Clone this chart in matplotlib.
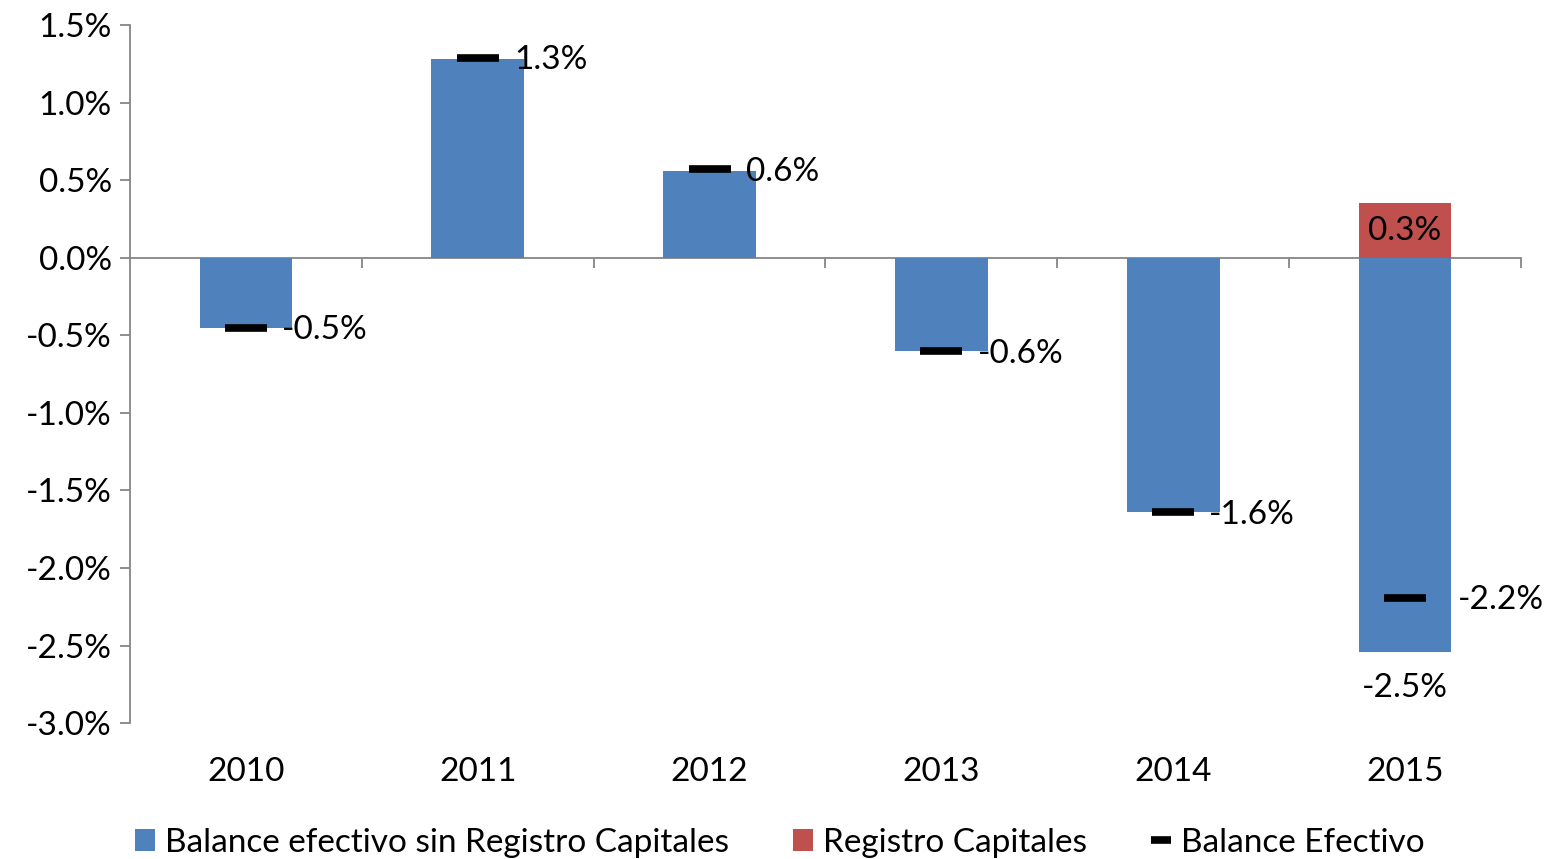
import matplotlib
matplotlib.use("Agg")
import matplotlib.pyplot as plt
from matplotlib.lines import Line2D
from matplotlib.ticker import FuncFormatter
import numpy as np

plt.rcParams['font.family'] = ['Lato', 'DejaVu Sans']

# data (percent of GDP)
years = ['2010', '2011', '2012', '2013', '2014', '2015']
sin_registro = [-0.45, 1.28, 0.56, -0.60, -1.64, -2.54]
registro = [0, 0, 0, 0, 0, 0.35]
balance = [-0.45, 1.29, 0.57, -0.60, -1.64, -2.19]
balance_lbl = ['-0.5%', '1.3%', '0.6%', '-0.6%', '-1.6%', '-2.2%']

blue = '#4F81BD'
red = '#C0504D'
grey = '#868686'
fs = 24

x = np.arange(len(years))

fig, ax = plt.subplots(figsize=(15.47, 8.59), dpi=100)
fig.subplots_adjust(left=0.084, right=0.9832, top=0.971, bottom=0.158)

b1 = ax.bar(x, sin_registro, width=0.4, color=blue, zorder=2)
b2 = ax.bar(x[-1], registro[-1], width=0.4, color=red, zorder=2)
ax.plot(x, balance, ls='none', marker='_', ms=30, mew=5.5, color='black', zorder=4)

for i, (xi, yi, t) in enumerate(zip(x, balance, balance_lbl)):
    dx = 38 if i == len(x) - 1 else 26
    ax.annotate(t, (xi, yi), xytext=(dx, -2), textcoords='offset points',
                ha='left', va='center', fontsize=fs)
# red bar label and bar-bottom label for 2015
ax.annotate('0.3%', (x[-1], registro[-1] / 2), ha='center', va='center', fontsize=fs)
ax.annotate('-2.5%', (x[-1], sin_registro[-1]), xytext=(0, -15), textcoords='offset points',
            ha='center', va='top', fontsize=fs)

ax.set_xlim(-0.5, len(years) - 0.5)
ax.set_ylim(-3.0, 1.5)
ax.set_yticks(np.arange(-3.0, 1.51, 0.5))
ax.yaxis.set_major_formatter(FuncFormatter(lambda v, p: f'{v:.1f}%'))
ax.tick_params(axis='y', direction='out', length=7, width=1.3, color=grey, labelsize=fs, pad=6)

ax.set_xticks(x)
ax.set_xticklabels(years)
ax.tick_params(axis='x', length=0, labelsize=fs, pad=24)

for s in ['top', 'right', 'bottom']:
    ax.spines[s].set_visible(False)
ax.spines['left'].set_color(grey)
ax.spines['left'].set_linewidth(1.3)

# category axis line drawn at zero
zax = ax.secondary_xaxis(0, transform=ax.transData)
zax.set_xticks(np.arange(0.5, len(years), 1.0))
zax.set_xticklabels([])
zax.tick_params(direction='out', length=7, width=1.3, color=grey)
zax.spines['bottom'].set_color(grey)
zax.spines['bottom'].set_linewidth(1.3)

handles = [b1, b2, Line2D([], [], ls='none', marker='_', ms=15, mew=5.5, color='black')]
labels = ['Balance efectivo sin Registro Capitales', 'Registro Capitales', 'Balance Efectivo']
fig.legend(handles, labels, loc='center', bbox_to_anchor=(0.504, 0.019), ncol=3,
           frameon=False, fontsize=fs, handlelength=0.62, handleheight=0.62,
           handletextpad=0.3, columnspacing=1.9)

fig.savefig('out.png', dpi=100)
